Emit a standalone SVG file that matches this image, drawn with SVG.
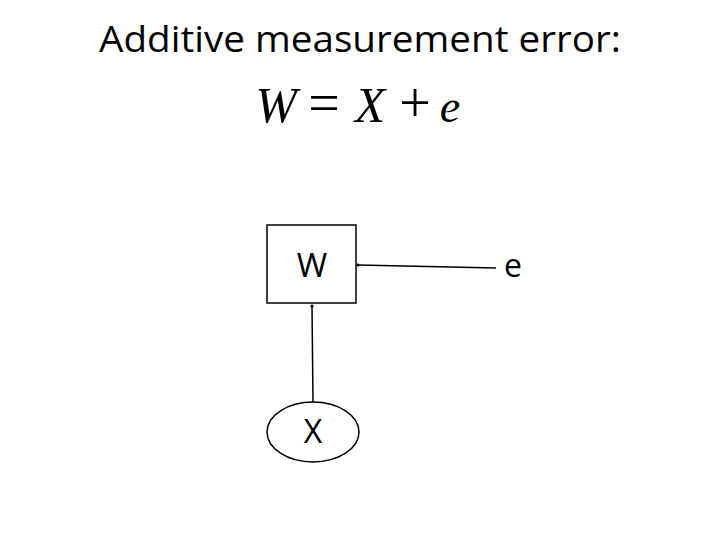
<svg xmlns="http://www.w3.org/2000/svg" width="720" height="540" viewBox="0 0 720 540">
<style>
.t{font-family:"Open Sans","Liberation Sans",sans-serif;fill:#000}
.m{font-family:"Liberation Serif","DejaVu Serif",serif;fill:#000;font-size:46px;text-anchor:middle}
.i{font-style:italic}
.b{font-size:50px}
.o{font-size:56px}
.s{fill:#fff;stroke:#000;stroke-width:1.5}
.c{stroke:#000;stroke-width:1.5;fill:none;marker-end:url(#dot)}
</style>
<defs>
<marker id="dot" markerWidth="4" markerHeight="4" refX="2" refY="2" markerUnits="userSpaceOnUse" orient="auto">
<circle cx="2" cy="2" r="1.6" fill="#000"/>
</marker>
</defs>
<rect width="720" height="540" fill="#fff"/>
<text class="t" x="360" y="52" font-size="37" text-anchor="middle" textLength="522" lengthAdjust="spacingAndGlyphs">Additive measurement error:</text>
<g id="formula">
<text class="m i b" x="276" y="122">W</text>
<text class="m o" x="324" y="122">=</text>
<text class="m i b" x="370" y="122">X</text>
<text class="m o" x="415" y="122">+</text>
<text class="m i" x="450" y="122">e</text>
</g>
<g id="connectors">
<path class="c" d="M496 268 L358 265"/>
<path class="c" d="M313 402 L312 306"/>
</g>
<g id="W">
<rect class="s" x="267" y="225" width="89" height="78"/>
<text class="t" x="312" y="277" font-size="33" text-anchor="middle">W</text>
</g>
<g id="X">
<ellipse class="s" cx="313" cy="432" rx="46" ry="30"/>
<text class="t" x="313" y="443" font-size="32" text-anchor="middle">X</text>
</g>
<g id="e">
<text class="t" x="513" y="277" font-size="32" text-anchor="middle">e</text>
</g>
</svg>
